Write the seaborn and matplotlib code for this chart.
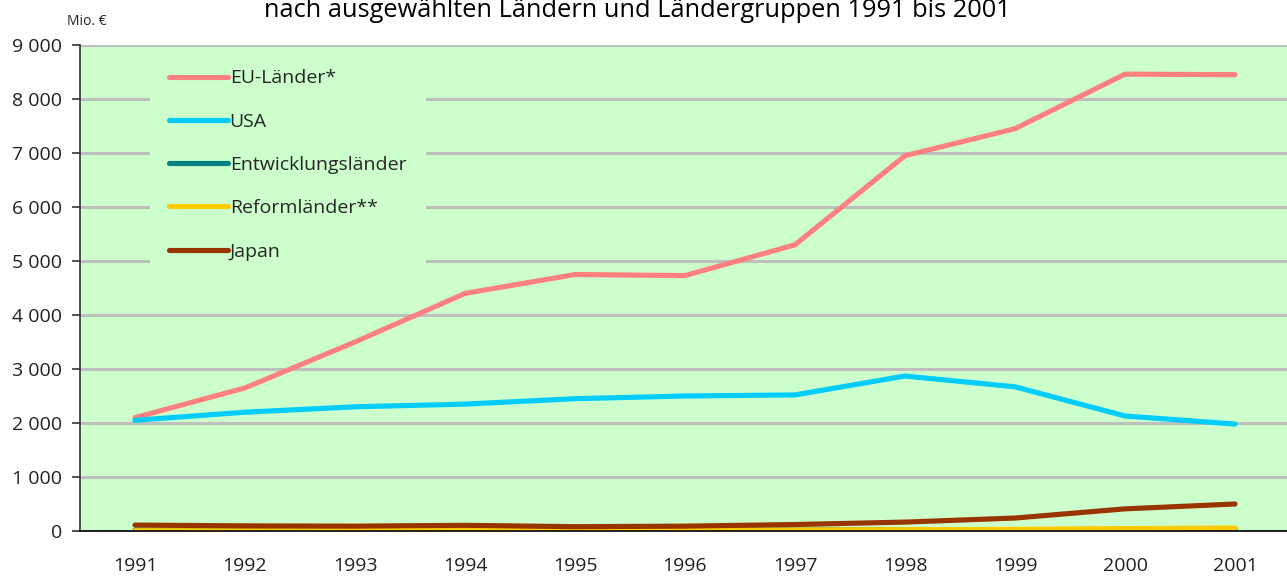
import matplotlib
matplotlib.use("Agg")
import matplotlib.pyplot as plt
import matplotlib.ticker as mticker
import seaborn as sns
import pandas as pd

years = [1991, 1992, 1993, 1994, 1995, 1996, 1997, 1998, 1999, 2000, 2001]
eu = [2100, 2650, 3500, 4400, 4750, 4730, 5300, 6950, 7450, 8460, 8450]
usa = [2050, 2200, 2300, 2350, 2450, 2500, 2520, 2870, 2670, 2130, 1980]
entwicklung = [15, 15, 15, 15, 15, 20, 20, 25, 25, 30, 30]
reform = [5, 5, 8, 10, 10, 15, 20, 25, 30, 45, 55]
japan = [110, 95, 90, 105, 80, 90, 120, 165, 240, 410, 500]

series_names = ["EU-Länder*", "USA", "Entwicklungsländer", "Reformländer**", "Japan"]
series_values = [eu, usa, entwicklung, reform, japan]
colors = ["#FF8080", "#00CCFF", "#008080", "#FFCC00", "#993300"]
title = "nach ausgewählten Ländern und Ländergruppen 1991 bis 2001"
ylabel = "Mio. €"

rows = []
for name, vals in zip(series_names, series_values):
    for i, (y, v) in enumerate(zip(years, vals)):
        rows.append({"pos": i, "Jahr": y, "Wert": v, "Reihe": name})
df = pd.DataFrame(rows)

sns.set_style("white")
plt.rcParams["font.family"] = ["Open Sans", "DejaVu Sans"]

W, H = 1287, 578
fig = plt.figure(figsize=(W / 100, H / 100), dpi=100)
ax = fig.add_axes([80 / W, (H - 531) / H, 1210 / W, 486 / H])
ax.set_facecolor("#CCFFCC")

sns.lineplot(data=df, x="pos", y="Wert", hue="Reihe", hue_order=series_names,
             palette=dict(zip(series_names, colors)), linewidth=3.7, ax=ax,
             legend=True, zorder=3)

ax.set_xlim(-0.5, len(years) - 0.5)
ax.set_ylim(0, 9000)
ax.set_yticks(range(0, 9001, 1000))
ax.yaxis.set_major_formatter(mticker.FuncFormatter(lambda v, p: f"{int(v):,}".replace(",", " ")))
ax.set_xticks(range(len(years)))
ax.set_xticklabels([str(y) for y in years])
ax.set_xticks([i - 0.5 for i in range(len(years) + 1)], minor=True)
ax.tick_params(axis="x", which="major", length=0, pad=19, labelsize=14, colors="#222222")
ax.tick_params(axis="x", which="minor", length=6, width=1.2, color="#333333", direction="out")
ax.tick_params(axis="y", which="major", length=6, width=1.2, pad=7, labelsize=14,
               color="#333333", labelcolor="#222222", direction="out", left=True)
ax.set_xlabel("")
ax.set_ylabel("")

ax.grid(axis="y", color="#BFBFBF", linewidth=2.2, zorder=1)
ax.set_axisbelow(True)
for s in ["top", "right"]:
    ax.spines[s].set_visible(False)
ax.spines["left"].set_color("#333333")
ax.spines["left"].set_linewidth(1.2)
ax.spines["bottom"].set_color("#000000")
ax.spines["bottom"].set_linewidth(1.2)
ax.spines["left"].set_zorder(5)
ax.spines["bottom"].set_zorder(5)

leg = ax.legend(loc="upper left", bbox_to_anchor=(70 / 1210, 481 / 486), frameon=True,
                fontsize=14, handlelength=3.0, handletextpad=0.1, labelspacing=1.3,
                borderpad=1.0, borderaxespad=0, fancybox=False)
leg.get_frame().set_facecolor("#CCFFCC")
leg.get_frame().set_edgecolor("none")
leg.get_frame().set_alpha(1)
leg.set_zorder(4)
for line in leg.get_lines():
    line.set_linewidth(3.7)

fig.text(0.495, 1 - 17 / H, title, ha="center", va="baseline", fontsize=18.3, color="#000000")
fig.text(67 / W, 1 - 25 / H, ylabel, ha="left", va="baseline", fontsize=10, color="#222222")

fig.savefig("out.png", dpi=100, facecolor="white")
